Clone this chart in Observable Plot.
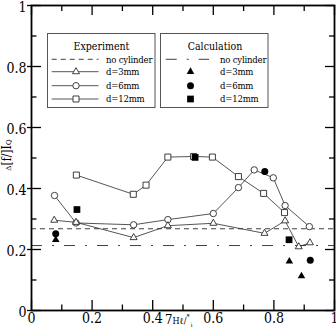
<!DOCTYPE html>
<html>
<head>
<meta charset="utf-8">
<script src="https://cdn.jsdelivr.net/npm/d3@7"></script>
<script src="https://cdn.jsdelivr.net/npm/@observablehq/plot@0.6"></script>
<style>
  body { margin: 0; background: #fff; }
</style>
</head>
<body>
<div id="chart"></div>
<script>
// Experiment, d = 3 mm (open triangles)
const exp3X = [0.075, 0.147, 0.337, 0.450, 0.600, 0.769, 0.837, 0.882, 0.919];
const exp3Y = [0.296, 0.289, 0.239, 0.278, 0.286, 0.253, 0.294, 0.209, 0.222];
// Experiment, d = 6 mm (open circles)
const exp6X = [0.076, 0.147, 0.337, 0.450, 0.600, 0.683, 0.735, 0.798, 0.837, 0.917];
const exp6Y = [0.377, 0.287, 0.281, 0.298, 0.318, 0.403, 0.461, 0.435, 0.344, 0.275];
// Experiment, d = 12 mm (open squares)
const exp12X = [0.148, 0.336, 0.378, 0.450, 0.535, 0.597, 0.683, 0.766, 0.835];
const exp12Y = [0.444, 0.381, 0.411, 0.503, 0.505, 0.503, 0.439, 0.384, 0.321];
// Calculation (filled markers)
const calc3X = [0.080, 0.851, 0.891];
const calc3Y = [0.232, 0.161, 0.113];
const calc6X = [0.080, 0.770, 0.920];
const calc6Y = [0.252, 0.456, 0.165];
const calc12X = [0.150, 0.540, 0.850];
const calc12Y = [0.331, 0.502, 0.232];
// Reference levels without cylinder
const noCylExp = 0.268;
const noCylCalc = 0.213;

// Axis ticks
const majorTicks = [0, 0.2, 0.4, 0.6, 0.8, 1];
const minorTicks = [0.1, 0.3, 0.5, 0.7, 0.9];
const tickLabels = ["0", "0.2", "0.4", "0.6", "0.8", "1"];

// Legend text
const expTitle = "Experiment";
const calcTitle = "Calculation";
const entryLabels = ["no cylinder", "d=3mm", "d=6mm", "d=12mm"];

const rows = (xs, ys) => xs.map((x, i) => ({x, y: ys[i]}));
const exp3 = rows(exp3X, exp3Y);
const exp6 = rows(exp6X, exp6Y);
const exp12 = rows(exp12X, exp12Y);
const calc3 = rows(calc3X, calc3Y);
const calc6 = rows(calc6X, calc6Y);
const calc12 = rows(calc12X, calc12Y);

const W = 336, H = 333;
const mL = 31, mR = 2, mT = 5, mB = 23;
const fw = W - mL - mR, fh = H - mT - mB;
const ink = "#2a2a2a";
const serif = "'DejaVu Serif Condensed', 'DejaVu Serif', serif";
const dashExp = "5,4";
const dashCalc = "11,10,2,10";
const fmt = d => tickLabels[majorTicks.indexOf(d)];

const lineOpts = {x: "x", y: "y", stroke: ink, strokeWidth: 0.8};
const openOpts = {x: "x", y: "y", fill: "#fff", stroke: ink, strokeWidth: 0.9};
const solidOpts = {x: "x", y: "y", fill: "#000", stroke: "none"};
const R = {sq: 3.4, ci: 3.2, tr: 2.6, fsq: 3.8, fci: 3.5, ftr: 2.8};
const tickStyle = {stroke: "#000", strokeWidth: 1.3};

const chart = Plot.plot({
  width: W, height: H,
  marginLeft: mL, marginRight: mR, marginTop: mT, marginBottom: mB,
  style: {fontFamily: serif, fontSize: "14px", background: "#fff", color: "#000"},
  x: {domain: [0, 1]},
  y: {domain: [0, 1]},
  marks: [
    Plot.ruleY([noCylExp], {y: d => d, stroke: ink, strokeWidth: 0.9, strokeDasharray: dashExp}),
    Plot.ruleY([noCylCalc], {y: d => d, stroke: ink, strokeWidth: 0.9, strokeDasharray: dashCalc}),
    Plot.line(exp12, lineOpts),
    Plot.line(exp6, lineOpts),
    Plot.line(exp3, lineOpts),
    Plot.dot(exp12, {...openOpts, symbol: "square", r: R.sq}),
    Plot.dot(exp6, {...openOpts, symbol: "circle", r: R.ci}),
    Plot.dot(exp3, {...openOpts, symbol: "triangle", r: R.tr}),
    Plot.dot(calc12, {...solidOpts, symbol: "square", r: R.fsq}),
    Plot.dot(calc6, {...solidOpts, symbol: "circle", r: R.fci}),
    Plot.dot(calc3, {...solidOpts, symbol: "triangle", r: R.ftr}),
    // inward ticks on all four sides; major ticks on the left also poke outward
    Plot.tickX(majorTicks, {x: d => d, insetTop: fh - 10, ...tickStyle}),
    Plot.tickX(minorTicks, {x: d => d, insetTop: fh - 5.5, ...tickStyle}),
    Plot.tickX(majorTicks, {x: d => d, insetBottom: fh - 10, ...tickStyle}),
    Plot.tickX(minorTicks, {x: d => d, insetBottom: fh - 6, ...tickStyle}),
    Plot.tickY(majorTicks, {y: d => d, insetLeft: -4, insetRight: fw - 10, ...tickStyle}),
    Plot.tickY(minorTicks, {y: d => d, insetRight: fw - 5.5, ...tickStyle}),
    Plot.tickY(majorTicks, {y: d => d, insetLeft: fw - 9, ...tickStyle}),
    Plot.tickY(minorTicks, {y: d => d, insetLeft: fw - 5, ...tickStyle}),
    Plot.axisX({ticks: majorTicks, tickSize: 0, tickPadding: 3, tickFormat: fmt, label: null}),
    Plot.axisY({ticks: majorTicks, tickSize: 0, tickPadding: 5, tickFormat: fmt, label: null, dy: 2}),
    Plot.frame({stroke: "#000", strokeWidth: 1.8})
  ]
});

document.getElementById("chart").appendChild(chart);

// Legends and axis titles
const svg = d3.select(chart);
const sym = (type, r) => d3.symbol(type, Math.PI * r * r)();
const lg = svg.append("g").attr("font-family", serif).attr("fill", "#000");

function legendBox(x0, title, titleX, textX, sampleX1, sampleX2, markerX, filled) {
  lg.append("rect")
    .attr("x", x0).attr("y", 33.5).attr("width", 107.5).attr("height", 74)
    .attr("fill", "#fff").attr("stroke", "#555").attr("stroke-width", 1);
  lg.append("text").attr("x", titleX).attr("y", 50).attr("text-anchor", "middle")
    .attr("font-size", 10.5).text(title);
  const rowsY = [62.5, 75.3, 89, 102.3];
  const lineY = [59.3, 71.7, 85.7, 99];
  entryLabels.forEach((t, i) => {
    lg.append("text").attr("x", textX).attr("y", rowsY[i]).attr("font-size", 9.5)
      .attr("text-anchor", "start").attr("letter-spacing", -0.2).text(t);
  });
  lg.append("line").attr("x1", sampleX1).attr("x2", sampleX2).attr("y1", lineY[0]).attr("y2", lineY[0])
    .attr("stroke", ink).attr("stroke-width", 0.9)
    .attr("stroke-dasharray", filled ? dashCalc : dashExp);
  const shapes = filled
    ? [[d3.symbolTriangle, R.ftr], [d3.symbolCircle, R.fci], [d3.symbolSquare, R.fsq]]
    : [[d3.symbolTriangle, R.tr], [d3.symbolCircle, R.ci], [d3.symbolSquare, R.sq]];
  shapes.forEach(([type, r], i) => {
    const y = lineY[i + 1];
    if (!filled) {
      lg.append("line").attr("x1", sampleX1).attr("x2", sampleX2).attr("y1", y).attr("y2", y)
        .attr("stroke", ink).attr("stroke-width", 0.8);
    }
    lg.append("path").attr("d", sym(type, r))
      .attr("transform", `translate(${markerX},${y})`)
      .attr("fill", filled ? "#000" : "#fff")
      .attr("stroke", filled ? "none" : ink).attr("stroke-width", 0.9);
  });
}

legendBox(47.5, expTitle, 101.5, 106, 51.7, 98.5, 76, false);
legendBox(160.5, calcTitle, 215, 220, 165.7, 209, 190.5, true);

// y-axis title
const yt = svg.append("text")
  .attr("font-family", serif).attr("fill", "#000")
  .attr("transform", "translate(11,155) rotate(-90)")
  .attr("text-anchor", "middle");
yt.append("tspan").attr("font-size", 8).text("Δ");
yt.append("tspan").attr("font-size", 12).text("[f/]I");
yt.append("tspan").attr("font-size", 8).text("Q");

// x-axis title
const xt = svg.append("text")
  .attr("font-family", serif).attr("fill", "#000")
  .attr("text-anchor", "start")
  .attr("x", 165).attr("y", 324);
xt.append("tspan").attr("font-size", 13).text("7");
xt.append("tspan").attr("font-size", 9).text("Hℓ/");
xt.append("tspan").attr("font-size", 7).attr("dy", -5).text("*");
xt.append("tspan").attr("font-size", 6).attr("dy", 8).attr("dx", 1).text("i");
</script>
</body>
</html>
